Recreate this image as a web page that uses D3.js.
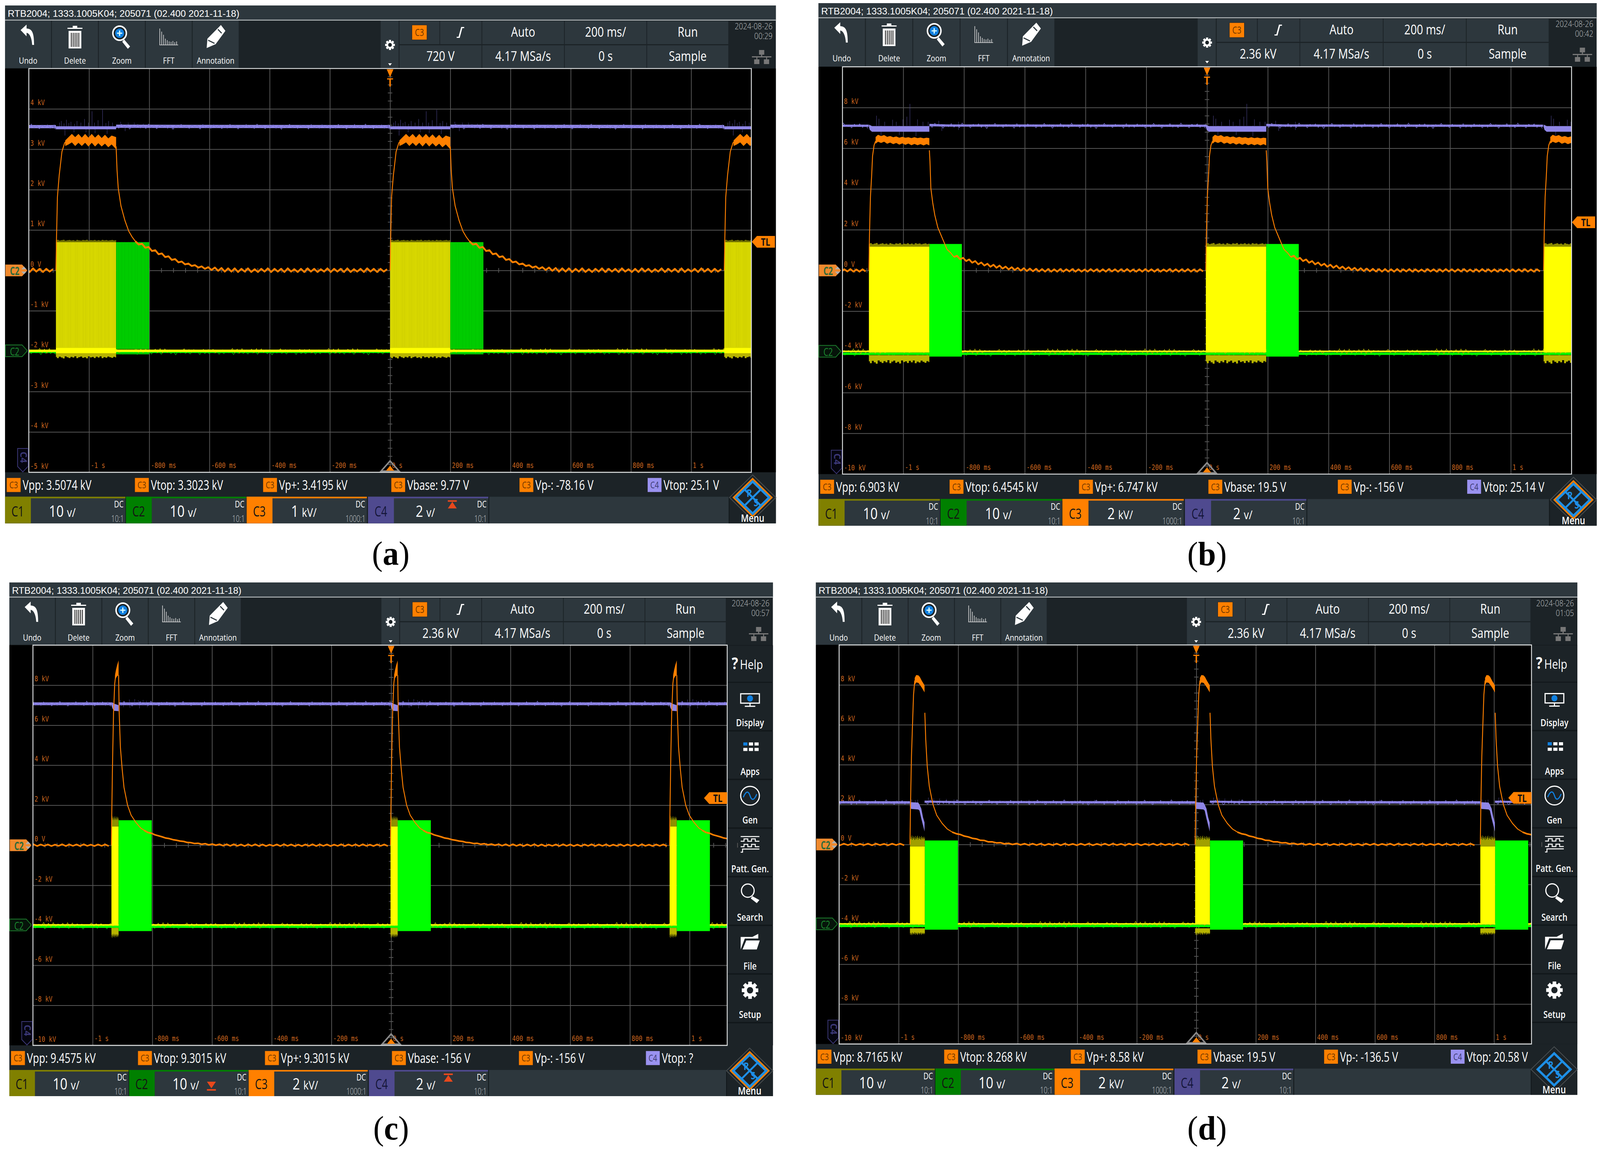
<!DOCTYPE html>
<html>
<head>
<meta charset="utf-8">
<script src="https://cdn.jsdelivr.net/npm/d3@7"></script>
<style>
  html, body { margin: 0; padding: 0; background: #fff; overflow: hidden; }
  svg { display: block; width: 100vw; height: 100vh; }
</style>
</head>
<body>
<svg id="page" viewBox="0 0 4275 2949" preserveAspectRatio="none"></svg>
<script>
// tick labels shared by the four screens
const timeTicks = [-1000, -800, -600, -400, -200, 0, 200, 400, 600, 800, 1000]
const timeLabels = ["-1 s", "-800 ms", "-600 ms", "-400 ms", "-200 ms", "0 s", "200 ms", "400 ms", "600 ms", "800 ms", "1 s"]
const voltTicksA = [4, 3, 2, 1, 0, -1, -2, -3, -4, -5]
const voltLabelsA = ["4 kV", "3 kV", "2 kV", "1 kV", "0 V", "-1 kV", "-2 kV", "-3 kV", "-4 kV", "-5 kV"]
const voltTicksB = [8, 6, 4, 2, 0, -2, -4, -6, -8, -10]
const voltLabelsB = ["8 kV", "6 kV", "4 kV", "2 kV", "0 V", "-2 kV", "-4 kV", "-6 kV", "-8 kV", "-10 kV"]

const toolButtons = ["Undo", "Delete", "Zoom", "FFT", "Annotation"]
const sideButtons = ["Display", "Apps", "Gen", "Patt. Gen.", "Search", "File", "Setup"]
const titleText = "RTB2004; 1333.1005K04; 205071 (02.400 2021-11-18)"
const channelNames = ["C1", "C2", "C3", "C4"]
const probeLabels = ["10:1", "10:1", "1000:1", "10:1"]

// screen (a)
const startsA = [-2220, -1110, 0, 1110]
const burstA = [200, 310]           // yellow end, green end (ms after pulse start)
const riseA = [[0, 0], [2, .8], [5, 1.82], [11, 2.36], [20, 2.94], [29, 3.16], [42, 3.25]]
const bandA = [[31, 3.08, 3.22], [42, 3.12, 3.3], [53, 3.17, 3.38], [64, 3.08, 3.3], [75, 3.16, 3.38], [86, 3.08, 3.29], [97, 3.16, 3.38], [108, 3.07, 3.29], [119, 3.16, 3.38], [130, 3.07, 3.29], [141, 3.15, 3.37], [152, 3.07, 3.28], [163, 3.14, 3.36], [174, 3.05, 3.27], [185, 3.12, 3.34], [200, 3, 3.3]]
const fallA = [[200, 3.07], [203, 2.49], [207, 2.04], [216, 1.6], [229, 1.24], [242, .97], [253, .83]]
const tailStartA = 264, tailStepA = 11
const tailA = [.72, .64, .66, .56, .58, .48, .5, .4, .42, .33, .35, .26, .28, .2, .22, .15, .17, .11, .13, .07, .1, .04, .08, .01, .07, -.01, .06, -.03, .05, -.03, .05, -.04, .04, -.03, .05, -.04, .03, -.04, .04, -.03, .05, -.04, .04, -.03, .04, -.04, .05, -.03, .03, -.04, .04, -.04, .05, -.03, .04, -.04, .03, -.03, .05, -.04, .04, -.03, .04, -.04, .05, -.04, .03, -.03, .04, -.04, .05, -.03, .04, -.04, .04, -.03, .03]
const purpleA = [[0, 3.495, 3.57], [200, 3.495, 3.57], [200, 3.53, 3.61], [1110, 3.52, 3.6]]
const spikesA = [[-6, 3.62], [12, 3.66], [18, 3.7], [27, 3.64], [35, 3.73], [43, 3.65], [50, 3.68], [62, 3.63], [70, 3.7], [83, 3.66], [95, 3.75], [108, 3.66], [120, 3.94], [128, 3.66], [140, 3.72], [155, 3.98], [166, 3.65], [175, 3.7], [188, 3.66], [215, 3.68], [240, 3.66], [260, 3.66], [290, 3.64], [30, 3.34], [60, 3.42], [100, 3.42], [130, 3.4], [170, 3.38], [230, 3.45]]
// green top, yellow top, yellow bottom, green bottom, fuzz start, fuzz end
const burstLevelsA = [.7, .7, -2.05, -1.95, -2.05, -2.18]
const baseLevelsA = [-1.99, -2.03]               // yellow, green
const fuzzTopA = .06
const stripesYellowA = [6, 14, 21, 33, 41, 48, 57, 66, 72, 84, 91, 99, 108, 113, 124, 131, 142, 150, 158, 163, 175, 182, 194]
const stripesGreenA = [207, 219, 228, 241, 252, 263, 271, 284, 296, 305]
const measA = [["C3", "Vpp: 3.5074 kV"], ["C3", "Vtop: 3.3023 kV"], ["C3", "Vp+: 3.4195 kV"], ["C3", "Vbase: 9.77 V"], ["C3", "Vp-: -78.16 V"], ["C4", "Vtop: 25.1 V"]]
const scalesA = ["10", "10", "1", "2"]
const unitsA = ["v/", "v/", "kV/", "v/"]

// screen (b)
const startsB = [-2224, -1113, -4, 1108]
const burstB = [199, 306]
const riseB = [[0, 0], [2, 1.83], [5, 3.6], [9, 4.65], [12, 5.62], [17, 6.15], [22, 6.35]]
const bandB = [[22, 6.22, 6.55], [30, 6.32, 6.66], [40, 6.26, 6.6], [50, 6.32, 6.65], [60, 6.22, 6.56], [70, 6.28, 6.6], [80, 6.2, 6.54], [90, 6.26, 6.58], [100, 6.18, 6.52], [110, 6.24, 6.56], [120, 6.17, 6.52], [130, 6.23, 6.54], [140, 6.15, 6.5], [150, 6.21, 6.54], [160, 6.15, 6.5], [170, 6.2, 6.53], [180, 6.14, 6.49], [190, 6.2, 6.52], [199, 6.14, 6.5]]
const fallB = [[199, 5.9], [201, 5.36], [204, 4.03], [210, 3.33], [217, 2.71], [227, 2.1], [242, 1.57], [257, 1.04], [270, .85]]
const tailStartB = 280, tailStepB = 10
const tailB = [.66, .72, .55, .62, .46, .54, .38, .46, .3, .39, .24, .33, .18, .28, .13, .24, .09, .19, .05, .16, .02, .13, -.01, .11, -.03, .09, -.04, .08, -.05, .07, -.06, .07, -.06, .06, -.06, .07, -.06, .06, -.05, .07, -.06, .06, -.06, .05, -.06, .07, -.05, .06, -.06, .06, -.06, .07, -.05, .06, -.06, .06, -.05, .07, -.06, .05, -.06, .06, -.06, .07, -.05, .06, -.06, .06, -.06, .05, -.05, .07, -.06, .06, -.06, .06, -.05, .07, -.06, .05, -.06, .06, -.05]
const purpleB = [[0, 7.05, 7.16], [3, 6.9, 7.14], [10, 6.81, 7.09], [199, 6.81, 7.09], [199, 7.08, 7.2], [260, 7.06, 7.17], [1110, 7.05, 7.16]]
const spikesB = [[25, 7.6], [33, 7.45], [52, 7.3], [78, 7.4], [90, 7.3], [112, 7.42], [125, 7.55], [135, 8.18], [160, 7.42], [178, 7.3], [195, 7.3], [230, 7.35], [295, 7.3], [40, 6.62], [100, 6.65], [155, 6.6], [240, 6.85], [295, 6.9]]
const burstLevelsB = [1.3, 1.17, -4.03, -4.23, -4.16, -4.58]
const baseLevelsB = [-3.97, -4.09]
const fuzzTopB = .18
const measB = [["C3", "Vpp: 6.903 kV"], ["C3", "Vtop: 6.4545 kV"], ["C3", "Vp+: 6.747 kV"], ["C3", "Vbase: 19.5 V"], ["C3", "Vp-: -156 V"], ["C4", "Vtop: 25.14 V"]]
const scalesB = ["10", "10", "2", "2"]
const unitsB = ["v/", "v/", "kV/", "v/"]

// screen (c)
const startsC = [-1872, -937, -2, 933]
const burstC = [24, 135]
const riseC = [[0, 0], [1, 1.47], [4, 4.38], [7, 6.6], [11, 8.07], [15, 8.6]]
const bandC = [[12, 8.2, 8.5], [15, 8.35, 8.75], [19, 8.45, 9], [24, 8.5, 9.24]]
const fallC = [[24, 8.5], [26, 6.6], [30, 4.9], [36, 3.8], [42, 2.9], [54, 2], [66, 1.5], [82, 1.14], [98, .86]]
const tailStartC = 110, tailStepC = 12
const tailC = [.74, .64, .6, .52, .47, .42, .36, .33, .28, .25, .21, .19, .14, .13, .09, .1, .05, .08, .02, .06, 0, .05, -.02, .05, -.03, .05, -.03, .04, -.04, .04, -.03, .05, -.04, .04, -.04, .03, -.03, .04, -.04, .05, -.03, .04, -.04, .03, -.04, .04, -.03, .05, -.04, .04, -.03, .04, -.04, .03, -.03, .05, -.04, .04, -.03, .04, -.04, .05, -.03, .03, -.04, .04, -.03, .04, -.04]
const purpleC = [[0, 7, 7.14], [3, 6.85, 7.14], [8, 6.72, 7.08], [24, 6.7, 7], [24, 7, 7.14], [935, 7, 7.14]]
const spikesC = [[-12, 7.2], [30, 7.25], [42, 7.22], [60, 7.28], [78, 7.3], [90, 7.24], [106, 7.26], [118, 7.22], [40, 6.9], [62, 6.88], [94, 6.84], [120, 6.9], [210, 7.2], [380, 7.2], [540, 7.18]]
const burstLevelsC = [1.25, .94, -4, -4.29, -4.13, -4.63]
const baseLevelsC = [-3.98, -4.07]
const fuzzTopC = .53
const measC = [["C3", "Vpp: 9.4575 kV"], ["C3", "Vtop: 9.3015 kV"], ["C3", "Vp+: 9.3015 kV"], ["C3", "Vbase: -156 V"], ["C3", "Vp-: -156 V"], ["C4", "Vtop: ?"]]
const scalesC = ["10", "10", "2", "2"]
const unitsC = ["v/", "v/", "kV/", "v/"]

// screen (d)
const startsD = [-1920, -962, -4, 954]
const burstD = [50, 161]
const riseD = [[0, 0], [2, 2.1], [5, 4.4], [9, 6.2], [12, 7.5], [16, 8.2], [21, 8.2]]
const bandD = [[16, 8, 8.35], [21, 8.12, 8.49], [28, 8.1, 8.48], [33, 8.01, 8.4], [40, 7.85, 8.2], [46, 7.7, 8.05], [49, 7.62, 7.98]]
const fallD = [[50, 6.6], [53, 5.27], [58, 3.92], [65, 2.91], [77, 2.02], [90, 1.46], [108, 1.06], [125, .78]]
const tailStartD = 142, tailStepD = 13.5
const tailD = [.62, .54, .5, .42, .38, .31, .28, .21, .2, .13, .13, .08, .09, .03, .06, 0, .05, -.02, .04, -.03, .04, -.03, .04, -.04, .03, -.03, .04, -.04, .04, -.03, .03, -.04, .04, -.03, .04, -.04, .03, -.03, .04, -.04, .04, -.03, .03, -.04, .04, -.03, .04, -.04, .03, -.03, .04, -.04, .04, -.03, .03, -.04, .04, -.03, .04, -.04]
const purpleD = [[0, 1.9, 2.14], [4, 1.78, 2.12], [28, 1.75, 2.1], [32, 1.7, 2], [38, 1.3, 1.8], [44, .95, 1.35], [49, .65, 1.1], [49, 2.1, 2.2], [150, 2.07, 2.18], [958, 2.04, 2.17]]
const spikesD = [[6, 2.25], [18, 2.22], [26, 2.24], [62, 2.35], [80, 2.3], [100, 2.3], [122, 2.28], [148, 2.26], [400, 2.24], [620, 2.24]]
const burstLevelsD = [.2, -.1, -4, -4.27, -4.2, -4.54]
const baseLevelsD = [-3.98, -4.08]
const fuzzTopD = .55
const measD = [["C3", "Vpp: 8.7165 kV"], ["C3", "Vtop: 8.268 kV"], ["C3", "Vp+: 8.58 kV"], ["C3", "Vbase: 19.5 V"], ["C3", "Vp-: -136.5 V"], ["C4", "Vtop: 20.58 V"]]
const scalesD = ["10", "10", "2", "2"]
const unitsD = ["v/", "v/", "kV/", "v/"]

// grass on the flat traces and on the burst edges, read as a fraction of its own height
const fuzzShape = [.5, .9, .4, .7, 1, .3, .6, .85, .45, .7, .25, .9, .55, .35, .8, .6, .95, .3, .65, .5, .85, .4, .7, .3, .9, .55, .75, .35, .6, .8, .45, .65]
const hairNoise = [.4, -.6, .9, -.2, .5, -.9, .3, -.4, .8, -.5, .2, -.7, 1, -.3, .4, -.8, .6, -.1, .7, -.6, .3, -1, .5, -.3, .9, -.4, .2, -.7, .6, -.2, .4, -.9, .8, -.5, .1, -.6, .7, -.3, .5, -.8]

const CH_ORANGE = "#ff8000", CH_PURPLE = "#8f86e6", CH_YELLOW = "#ffff00", CH_GREEN = "#00ff00"
const BTN = "#2d373d", DARK = "#1c2327"
const SANS = "'Open Sans', 'Noto Sans', sans-serif"
const MONO = "'DejaVu Sans Mono', 'Liberation Mono', monospace"

const panels = [
  { name: "a", left: 13.5, right: 2073, top: 14, titleB: 52, toolB: 175.4, plotL: 77, plotR: 2007.5, plotB: 1209, measB: 1271.6, chanB: 1339.6,
    tDomain: [-1200, 1200], vDomain: [-5, 5], vTicks: voltTicksA, vLabels: voltLabelsA,
    starts: startsA, burst: burstA, rise: riseA, band: bandA, fall: fallA, tail: tailA, tailStart: tailStartA, tailStep: tailStepA,
    purple: purpleA, spikes: spikesA, levels: burstLevelsA, base: baseLevelsA, fuzzTop: fuzzTopA, fuzzFill: "#6f6f00", tailWidth: 4.6,
    meas: measA, scales: scalesA, units: unitsA, trig: "720 V", date: "2024-08-26", time: "00:29",
    yellow: "#d6d600", green: "#00cc00", stripesY: stripesYellowA, stripesG: stripesGreenA, greenLine: -2.06,
    tl: 619, tlLeft: false, caption: "a", capX: 1044, capY: 1446, warn: [[3, "up", 225]], orangeLogo: true, titleW: 619 },
  { name: "b", left: 2187, right: 4266, top: 8, titleB: 46, toolB: 171, plotL: 2251, plotR: 4199, plotB: 1213.6, measB: 1277.5, chanB: 1345.6,
    tDomain: [-1200, 1200], vDomain: [-10, 10], vTicks: voltTicksB, vLabels: voltLabelsB,
    starts: startsB, burst: burstB, rise: riseB, band: bandB, fall: fallB, tail: tailB, tailStart: tailStartB, tailStep: tailStepB,
    purple: purpleB, spikes: spikesB, levels: burstLevelsB, base: baseLevelsB, fuzzTop: fuzzTopB, fuzzFill: "#8a8a00", tailWidth: 4.4,
    meas: measB, scales: scalesB, units: unitsB, trig: "2.36 kV", date: "2024-08-26", time: "00:42",
    yellow: CH_YELLOW, green: CH_GREEN, tl: 569, tlLeft: false, caption: "b", capX: 3225, capY: 1447, warn: [], orangeLogo: true, titleW: 619 },
  { name: "c", left: 25, right: 2065, top: 1491, titleB: 1529, toolB: 1651.5, plotL: 88, plotR: 1943, plotB: 2676, measB: 2739, chanB: 2806,
    tDomain: [-1200, 1126], vDomain: [-10, 10], vTicks: voltTicksB, vLabels: voltLabelsB,
    starts: startsC, burst: burstC, rise: riseC, band: bandC, fall: fallC, tail: tailC, tailStart: tailStartC, tailStep: tailStepC,
    purple: purpleC, spikes: spikesC, levels: burstLevelsC, base: baseLevelsC, fuzzTop: fuzzTopC, fuzzFill: "#8f8f00", tailWidth: 4,
    meas: measC, scales: scalesC, units: unitsC, trig: "2.36 kV", date: "2024-08-26", time: "00:57",
    yellow: CH_YELLOW, green: CH_GREEN, tl: 2043, tlLeft: true, caption: "c", capX: 1045, capY: 2917, warn: [[1, "down", 222], [3, "up", 214]], orangeLogo: true, titleW: 613, side: true },
  { name: "d", left: 2180, right: 4214.5, top: 1491, titleB: 1529, toolB: 1651, plotL: 2242, plotR: 4092, plotB: 2672.5, measB: 2735.5, chanB: 2802.5,
    tDomain: [-1200, 1126], vDomain: [-10, 10], vTicks: voltTicksB, vLabels: voltLabelsB,
    starts: startsD, burst: burstD, rise: riseD, band: bandD, fall: fallD, tail: tailD, tailStart: tailStartD, tailStep: tailStepD,
    purple: purpleD, spikes: spikesD, levels: burstLevelsD, base: baseLevelsD, fuzzTop: fuzzTopD, fuzzFill: "#a0a000", tailWidth: 4,
    meas: measD, scales: scalesD, units: unitsD, trig: "2.36 kV", date: "2024-08-26", time: "01:05",
    yellow: CH_YELLOW, green: CH_GREEN, tl: 2042.5, tlLeft: true, caption: "d", capX: 3225, capY: 2917, warn: [], orangeLogo: false, titleW: 613, side: true }
]

const svg = d3.select("#page")

function label(g, x, y, str, o = {}) {
  return g.append("text")
    .attr("transform", `translate(${x},${y}) scale(${o.sx ?? .82},1)`)
    .attr("font-family", o.family ?? SANS)
    .attr("font-size", o.size ?? 34)
    .attr("font-weight", o.weight ?? 400)
    .attr("fill", o.fill ?? "#fff")
    .attr("text-anchor", o.anchor ?? "start")
    .text(str)
}

function box(g, x, y, w, h, fill) {
  return g.append("rect").attr("x", x).attr("y", y).attr("width", w).attr("height", h).attr("fill", fill)
}

function drawToolIcon(g, name) {
  const w = "#fff"
  if (name === "Undo") {
    g.append("path").attr("d", "M-20,-18 L-4,-32 L-4,-22 C12,-22 16,-8 16,20 L11,20 C10,2 4,-10 -4,-11 L-4,-2 Z").attr("fill", w)
  } else if (name === "Delete") {
    g.append("path").attr("d", "M-20,-24 H-6 V-29 H6 V-24 H20 V-21 H-20 Z").attr("fill", w)
    box(g, -17, -16, 34, 45, w)
    ;[-11, -6, -1, 4, 9].forEach(d => box(g, d, -11, 2.5, 36, "#333"))
  } else if (name === "Zoom") {
    g.append("circle").attr("cx", -6).attr("cy", -10).attr("r", 18).attr("fill", "#1c2327").attr("stroke", w).attr("stroke-width", 4)
    g.append("circle").attr("cx", -6).attr("cy", -10).attr("r", 12).attr("fill", "#1080e0")
    box(g, -13, -11.5, 14, 3, "#dff")
    box(g, -7.5, -17, 3, 14, "#dff")
    g.append("path").attr("d", "M6,6 L22,24 L16,30 L1,12 Z").attr("fill", w)
  } else if (name === "FFT") {
    g.append("path").attr("d", "M-25,20 H25 M-24,20 V-22 M-19,20 V-14 M-14,20 V-6 M-9,20 V4 M-4,20 V8 M1,20 V11 M6,20 V12 M11,20 V10 M16,20 V13 M21,20 V11")
      .attr("stroke", "#ddd").attr("stroke-width", 1.6).attr("fill", "none")
  } else if (name === "Annotation") {
    g.append("path").attr("d", "M14,-31 L26,-16 L0,18 L-24,28 L-22,4 Z").attr("fill", w)
    g.append("path").attr("d", "M-20,8 L-3,16 M6,-20 L16,-10").attr("stroke", "#2d373d").attr("stroke-width", 3)
  }
}

function drawSideIcon(g, name) {
  const w = "#fff"
  if (name === "Display") {
    g.append("rect").attr("x", -25).attr("y", -12).attr("width", 50).attr("height", 24).attr("fill", "none").attr("stroke", w).attr("stroke-width", 3)
    g.append("circle").attr("r", 8).attr("cy", 0).attr("fill", "#1080e0")
    g.append("path").attr("d", "M0,12 V20 M-14,20 H14").attr("stroke", w).attr("stroke-width", 3)
  } else if (name === "Apps") {
    ;[-18, -3, 12].forEach((x, i) => [-12, 2].forEach((y, j) => box(g, x, y, 11, 8, i === 0 && j === 0 ? "#1080e0" : w)))
  } else if (name === "Gen") {
    g.append("ellipse").attr("rx", 25).attr("ry", 24).attr("fill", "none").attr("stroke", w).attr("stroke-width", 3)
    g.append("path").attr("d", "M-18,4 C-10,-14 -4,-12 0,0 C4,12 10,14 18,-4").attr("fill", "none").attr("stroke", "#1080e0").attr("stroke-width", 3)
  } else if (name === "Patt. Gen.") {
    g.append("path").attr("d", "M-25,-20 H25 M-25,-8 H-16 V-14 H-6 V-8 H4 V-14 H14 V-8 H25 M-25,6 H-16 V0 H-6 V6 H4 V0 H14 V6 H25 M-25,20 H-20 V12 H25")
      .attr("fill", "none").attr("stroke", w).attr("stroke-width", 2.5)
  } else if (name === "Search") {
    g.append("circle").attr("cx", -6).attr("cy", -6).attr("r", 17).attr("fill", "none").attr("stroke", w).attr("stroke-width", 3)
    g.append("path").attr("d", "M6,8 L25,18 L18,26 L2,14 Z").attr("fill", w)
  } else if (name === "File") {
    g.append("path").attr("d", "M-25,20 V-12 L6,-12 L22,-20 V-8 H-14 L-25,20 Z M-20,20 L-10,-3 H26 L18,20 Z").attr("fill", w)
  } else if (name === "Setup") {
    drawGear(g, 22)
  }
}

function drawGear(g, r) {
  d3.range(4).forEach(i => {
    g.append("rect").attr("x", -r * .22).attr("y", -r).attr("width", r * .44).attr("height", r * 2).attr("fill", "#fff")
      .attr("transform", `rotate(${i * 45})`)
  })
  g.append("circle").attr("r", r * .75).attr("fill", "#fff")
  g.append("circle").attr("r", r * .38).attr("fill", DARK)
}

function drawChrome(g, p) {
  const W = p.right - p.left
  const k = W / 2059.5
  const X = v => p.left + v * k

  box(g, p.left, p.top, W, p.chanB - p.top, DARK)
  box(g, p.left, p.top, W, p.titleB - p.top, BTN)
  box(g, p.left, p.titleB - 1.5, W, 2, "#cfd4d6")

  label(g, p.left + 7, p.titleB - 9, titleText, { family: "'Liberation Sans', Arial, sans-serif", size: 23, sx: 1 })
    .attr("textLength", p.titleW).attr("lengthAdjust", "spacingAndGlyphs")

  // tool buttons
  toolButtons.forEach((name, i) => {
    const x0 = X(i * 125.3), w = 123 * k
    box(g, x0, p.titleB + 1, w, p.toolB - p.titleB - 2, BTN)
    drawToolIcon(g.append("g").attr("transform", `translate(${x0 + w / 2},${p.titleB + 43})`), name)
    label(g, x0 + w / 2, p.titleB + 111, name, { size: 22, anchor: "middle", sx: .88 })
  })

  // gear column
  const gx = X(1028.5)
  box(g, X(1003.5), p.titleB + 1, 48 * k, p.toolB - p.titleB - 2, BTN)
  drawGear(g.append("g").attr("transform", `translate(${gx},${p.titleB + 63})`), 13)
  g.append("path").attr("d", `M${gx - 5},${p.titleB + 110} h10 l-5,6 Z`).attr("fill", "#fff")

  // acquisition cells
  const cols = [1054, 1162.5, 1275, 1495.5, 1715.5, 1934.5]
  const rowA = [p.titleB + 2, 59], rowB = [p.titleB + 64, p.toolB - p.titleB - 65]
  box(g, X(cols[0]), rowA[0], (cols[1] - cols[0] - 2) * k, rowA[1], BTN)
  box(g, X(cols[1]), rowA[0], (cols[2] - cols[1] - 2) * k, rowA[1], BTN)
  box(g, X(cols[0]), rowB[0], (cols[2] - cols[0] - 2) * k, rowB[1], BTN)
  d3.range(2, 5).forEach(i => {
    box(g, X(cols[i]), rowA[0], (cols[i + 1] - cols[i] - 2) * k, rowA[1], BTN)
    box(g, X(cols[i]), rowB[0], (cols[i + 1] - cols[i] - 2) * k, rowB[1], BTN)
  })
  const mid = i => X((cols[i] + cols[i + 1] - 2) / 2)
  const c3x = mid(0)
  box(g, c3x - 20, p.titleB + 12, 40, 38, CH_ORANGE).attr("stroke", "#222").attr("stroke-width", 1)
  label(g, c3x, p.titleB + 40, "C3", { size: 25, anchor: "middle", fill: "#6a3500", sx: .8 })
  g.append("path").attr("d", `M${mid(1) - 11},${p.titleB + 42} h5 l7,-25 h8 v3 h-5 l-7,25 h-8 Z`).attr("fill", "#fff")
  ;[["Auto", 2], ["200 ms/", 3], ["Run", 4]].forEach(([s, i]) => label(g, mid(i), p.titleB + 42, s, { anchor: "middle", sx: .86 }))
  label(g, X((cols[0] + cols[2] - 2) / 2), p.titleB + 104, p.trig, { anchor: "middle", sx: .86 })
  ;[["4.17 MSa/s", 2], ["0 s", 3], ["Sample", 4]].forEach(([s, i]) => label(g, mid(i), p.titleB + 104, s, { anchor: "middle", sx: .86 }))

  // date and network glyph
  label(g, p.right - 9, p.titleB + 23, p.date, { size: 22, anchor: "end", fill: "#c0c4c6", sx: .88, weight: 300 })
  label(g, p.right - 9, p.titleB + 48, p.time, { size: 22, anchor: "end", fill: "#c0c4c6", sx: .88, weight: 300 })
  const nx = p.right - 38, ny = p.titleB + 76
  box(g, nx - 7, ny, 14, 12, "#777")
  box(g, nx - 26, ny + 16, 52, 3, "#777")
  box(g, nx - 1.5, ny + 10, 3, 8, "#777")
  box(g, nx - 20, ny + 24, 14, 12, "#777")
  box(g, nx + 6, ny + 24, 14, 12, "#777")
  box(g, nx - 14, ny + 17, 2.5, 8, "#777")
  box(g, nx + 12, ny + 17, 2.5, 8, "#777")

  // plot background
  const plotRight = p.side ? p.plotR : p.right
  box(g, p.left, p.toolB, plotRight - p.left, p.plotB - p.toolB, "#000")

  // measurement row
  const spacing = 342.5 * k
  p.meas.forEach(([ch, s], i) => {
    const x = p.left + 4 + i * spacing, y = p.plotB + 14
    box(g, x, y, 38, 37, ch === "C3" ? CH_ORANGE : "#9a92f0").attr("stroke", "#222").attr("stroke-width", 1)
    label(g, x + 19, y + 27, ch, { size: 24, anchor: "middle", fill: ch === "C3" ? "#6a3500" : "#3c3a70", sx: .8 })
    label(g, x + 43, y + 31, s, { size: 34, sx: .79 })
  })

  // channel strip
  const chanStarts = [0, 323, 645.5, 970]
  const chanFill = ["#808000", "#008000", CH_ORANGE, "#4f4a8f"]
  box(g, p.left, p.measB, W, p.chanB - p.measB, BTN)
  box(g, X(1934.5), p.measB, p.right - X(1934.5), p.chanB - p.measB, DARK)
  box(g, X(1934.5) - 1, p.measB, 2, p.chanB - p.measB, "#11171a")
  channelNames.forEach((c, i) => {
    const x0 = X(chanStarts[i]), cw = 321.5 * k, h = p.chanB - p.measB
    box(g, x0, p.measB, cw, 4, chanFill[i])
    box(g, x0, p.measB, 69 * k, h, chanFill[i])
    box(g, x0 + cw, p.measB, 2, h, "#11171a")
    label(g, x0 + 34 * k, p.chanB - 18, c, { size: 36, anchor: "middle", fill: i === 3 ? "#15163a" : "#141414", sx: .78 })
    const t = label(g, x0 + 153 * k, p.chanB - 17, "", { anchor: "middle", sx: .86 })
    t.append("tspan").attr("font-size", 40).text(p.scales[i] + " ")
    t.append("tspan").attr("font-size", 31).text(p.units[i])
    label(g, x0 + cw - 5, p.measB + 27, "DC", { size: 24, anchor: "end", sx: .78 })
    label(g, x0 + cw - 4, p.chanB - 4, probeLabels[i], { size: 24, anchor: "end", fill: "#c4c8ca", sx: .72, weight: 300 })
  })
  p.warn.forEach(([i, dir, off]) => {
    const x = X(chanStarts[i] + off), y = dir === "up" ? p.measB + 9 : p.measB + 30
    const path = dir === "up"
      ? `M${x - 12},${y} h24 v4 h-24 Z M${x},${y + 4} l12,17 h-24 Z`
      : `M${x - 12},${y} h24 l-12,17 Z M${x - 12},${y + 19} h24 v4 h-24 Z`
    g.append("path").attr("d", path).attr("fill", "#e8481c")
  })

  // R&S logo
  const lx = p.right - 62, ly = p.measB + 2
  const diamond = (a, b) => `M${lx},${ly - b} L${lx + a},${ly} L${lx},${ly + b} L${lx - a},${ly} Z`
  g.append("path").attr("d", diamond(62, 58)).attr("fill", DARK).attr("stroke", "#4a4f52").attr("stroke-width", 2)
  if (p.orangeLogo) g.append("path").attr("d", diamond(51, 48)).attr("fill", "none").attr("stroke", CH_ORANGE).attr("stroke-width", 4)
  g.append("path").attr("d", diamond(44, 41)).attr("fill", "none").attr("stroke", "#1e8fe6").attr("stroke-width", 6)
  g.append("path").attr("d", `M${lx - 22},${ly - 21} L${lx + 22},${ly + 21} M${lx + 22},${ly - 21} L${lx - 22},${ly + 21}`).attr("stroke", "#1e8fe6").attr("stroke-width", 5)
  label(g, lx - 9, ly - 2, "R", { size: 26, fill: "#1e8fe6", weight: 700, anchor: "middle", sx: .85 })
  label(g, lx + 9, ly + 22, "S", { size: 26, fill: "#1e8fe6", weight: 700, anchor: "middle", sx: .85 })
  label(g, lx, p.chanB - 4, "Menu", { size: 27, anchor: "middle", sx: .84, weight: 600 })

  // side menu on screens (c) and (d)
  if (p.side) {
    const sw = p.right - p.plotR
    const sx = p.plotR + sw / 2
    box(g, p.plotR, p.toolB, sw, p.plotB - p.toolB, "#11171a")
    box(g, p.plotR + 1.5, p.toolB + 1, sw - 1.5, 93, DARK)
    label(g, p.plotR + 12, p.toolB + 61, "?", { size: 42, weight: 700, sx: .85 })
    label(g, p.plotR + 34, p.toolB + 61, "Help", { size: 33, sx: .86 })
    sideButtons.forEach((name, i) => {
      const y0 = p.toolB + 96.5 + i * 124.5
      box(g, p.plotR + 1.5, y0, sw - 1.5, 121, DARK)
      drawSideIcon(g.append("g").attr("transform", `translate(${sx},${y0 + 40})`), name)
      label(g, sx, y0 + 111, name, { size: 25, anchor: "middle", sx: .85, weight: 600 })
    })
    box(g, p.plotR + 1.5, p.toolB + 96.5 + 7 * 124.5, sw - 1.5, p.plotB - (p.toolB + 96.5 + 7 * 124.5), DARK)
  }
}

function styleAxis(sel, tx, ty) {
  sel.select(".domain").remove()
  sel.selectAll(".tick line").attr("stroke", "#565656").attr("stroke-width", 2)
  sel.selectAll(".tick text")
    .attr("x", 0).attr("y", 0).attr("dy", 0).attr("text-anchor", "start")
    .attr("font-family", MONO).attr("font-size", 20).attr("fill", "#c8641e")
    .attr("transform", `translate(${tx},${ty}) scale(.8,1)`)
}

function drawScope(g, p) {
  const x = d3.scaleLinear().domain(p.tDomain).range([p.plotL, p.plotR])
  const y = d3.scaleLinear().domain(p.vDomain).range([p.plotB, p.toolB])
  const vs = p.vDomain[1] / 5

  // grid with the labels sitting inside the graticule
  g.append("g").attr("transform", `translate(0,${p.plotB})`)
    .call(d3.axisBottom(x).tickValues(timeTicks).tickFormat((d, i) => timeLabels[i]).tickSize(-(p.plotB - p.toolB)))
    .call(s => styleAxis(s, 4, -11))
  g.append("g").attr("transform", `translate(${p.plotL},0)`)
    .call(d3.axisLeft(y).tickValues(p.vTicks).tickFormat((d, i) => p.vLabels[i]).tickSize(-(p.plotR - p.plotL)))
    .call(s => styleAxis(s, 4, -10))

  // centre axes with their fine divisions
  const div = (p.vDomain[1] - p.vDomain[0]) / 50
  g.append("g").attr("transform", `translate(${x(0) - 6},0)`)
    .call(d3.axisRight(y).tickValues(d3.range(p.vDomain[0], p.vDomain[1] + div / 2, div)).tickSize(12).tickFormat(""))
    .call(s => styleAxis(s, 0, 0))
  g.append("g").attr("transform", `translate(0,${y(0) - 6})`)
    .call(d3.axisBottom(x).tickValues(d3.range(-1200, 1200, 40)).tickSize(12).tickFormat(""))
    .call(s => styleAxis(s, 0, 0))

  const clipId = "plot-" + p.name
  g.append("clipPath").attr("id", clipId).append("rect")
    .attr("x", p.plotL).attr("y", p.toolB).attr("width", p.plotR - p.plotL).attr("height", p.plotB - p.toolB)
  const plot = g.append("g").attr("clip-path", `url(#${clipId})`)

  const [greenTop, yellowTop, yellowBottom, greenBottom, fuzzStart, fuzzEnd] = p.levels
  const line = d3.line().x(d => x(d[0])).y(d => y(d[1]))
  const area = d3.area().x(d => x(d[0])).y0(d => y(d[1])).y1(d => y(d[2]))

  // C2 and C1 resting traces with some grass
  const [yBase, gBase] = p.base
  const hair = d3.range(0, 300).map(i => [p.tDomain[0] + i * 8, hairNoise[i % hairNoise.length]])
  plot.append("path").attr("fill", "none").attr("stroke", "#00b000").attr("stroke-width", 1.4)
    .attr("d", line(hair.map(d => [d[0], gBase + d[1] * .06 * vs])))
  plot.append("line").attr("x1", x(p.tDomain[0])).attr("x2", x(p.tDomain[1])).attr("y1", y(gBase)).attr("y2", y(gBase))
    .attr("stroke", CH_GREEN).attr("stroke-width", p.name === "a" ? 3 : 6)
  plot.append("path").attr("fill", "none").attr("stroke", "#b0b000").attr("stroke-width", 1.4)
    .attr("d", line(hair.map((d, i) => [d[0] + 4, yBase + hairNoise[(i * 3) % hairNoise.length] * .06 * vs])))
  plot.append("line").attr("x1", x(p.tDomain[0])).attr("x2", x(p.tDomain[1])).attr("y1", y(yBase)).attr("y2", y(yBase))
    .attr("stroke", CH_YELLOW).attr("stroke-width", p.name === "a" ? 6 : 3.6)

  p.starts.forEach(t0 => {
    const [yEnd, gEnd] = p.burst
    const pulse = plot.append("g")
    const bar = (a, b, hi, lo, fill) => pulse.append("rect")
      .attr("x", x(t0 + a)).attr("width", x(t0 + b) - x(t0 + a))
      .attr("y", y(hi)).attr("height", y(lo) - y(hi)).attr("fill", fill)

    // fuzz above and below the yellow burst
    const fuzzLen = fuzzShape.length - 1
    const fuzzArea = d3.area().curve(d3.curveStep)
      .x((d, i) => x(t0 + i / fuzzLen * yEnd))
      .y0(d => d[0]).y1(d => d[1])
    pulse.append("path").attr("fill", p.fuzzFill)
      .attr("d", fuzzArea(fuzzShape.map(f => [y(yellowTop), y(yellowTop + p.fuzzTop * (.45 + .55 * f))])))
    pulse.append("path").attr("fill", "#b8b400")
      .attr("d", fuzzArea(fuzzShape.map(f => [y(fuzzStart), y(fuzzStart - (fuzzStart - fuzzEnd) * (.45 + .55 * f))])))

    // C1 burst then C2 burst
    bar(0, yEnd, yellowTop, yellowBottom, p.yellow)
    if (p.stripesY) {
      p.stripesY.forEach((s, i) => pulse.append("line")
        .attr("x1", x(t0 + s)).attr("x2", x(t0 + s)).attr("y1", y(yellowTop)).attr("y2", y(yellowBottom + .15))
        .attr("stroke", i % 3 === 0 ? "#dada00" : "#d0d000").attr("stroke-width", 1.5))
      bar(0, yEnd, yellowBottom + .13, yellowBottom, CH_YELLOW)
    }
    bar(yEnd, gEnd, greenTop, greenBottom, p.green)
    if (p.stripesG) {
      p.stripesG.forEach(s => pulse.append("line")
        .attr("x1", x(t0 + s)).attr("x2", x(t0 + s)).attr("y1", y(greenTop)).attr("y2", y(greenBottom))
        .attr("stroke", "#00c400").attr("stroke-width", 1.5))
      bar(yEnd, gEnd, yBase + .03, yBase - .03, CH_YELLOW)
      bar(yEnd, gEnd, p.greenLine + .02, p.greenLine - .02, "#00c000")
    }

    // C4 level, its grass and spikes
    const period = p.purple[p.purple.length - 1][0]
    const rest = p.purple[p.purple.length - 1]
    const restMid = (rest[1] + rest[2]) / 2
    pulse.append("g").selectAll("line").data(p.spikes).join("line")
      .attr("x1", d => x(t0 + d[0])).attr("x2", d => x(t0 + d[0]))
      .attr("y1", y((p.purple[0][1] + p.purple[0][2]) / 2)).attr("y2", d => y(d[1]))
      .attr("stroke", "#4f4890").attr("stroke-width", 1)
    pulse.append("path").attr("fill", CH_PURPLE).attr("d", area(p.purple.map(d => [t0 + d[0], d[1], d[2]])))
    const restHair = d3.range(yEnd, period, 9).map((t, i) => [t0 + t, restMid + hairNoise[i % hairNoise.length] * .065 * vs])
    pulse.append("path").attr("fill", "none").attr("stroke", "#7a70d4").attr("stroke-width", 1.3).attr("d", line(restHair))

    // C3 pulse: plateau band plus a single trace
    pulse.append("path").attr("fill", CH_ORANGE).attr("d", area(p.band.map(d => [t0 + d[0], d[1], d[2]])))
    const tailPts = p.tail.map((v, i) => [t0 + p.tailStart + i * p.tailStep, v])
    pulse.append("path").attr("fill", "none").attr("stroke", CH_ORANGE).attr("stroke-width", 2.4)
      .attr("stroke-linejoin", "round")
      .attr("d", line(p.rise.map(d => [t0 + d[0], d[1]])))
    pulse.append("path").attr("fill", "none").attr("stroke", CH_ORANGE).attr("stroke-width", 2.4)
      .attr("stroke-linejoin", "round")
      .attr("d", line(p.fall.map(d => [t0 + d[0], d[1]]).concat(tailPts.slice(0, 1))))
    pulse.append("path").attr("fill", "none").attr("stroke", CH_ORANGE).attr("stroke-width", p.tailWidth)
      .attr("stroke-linejoin", "round")
      .attr("d", line(tailPts))
  })

  // frame
  g.append("path").attr("d", `M${p.plotL},${p.plotB} V${p.toolB} H${p.plotR} V${p.plotB} Z`)
    .attr("fill", "none").attr("stroke", "#dfe2e3").attr("stroke-width", 2.4)

  // trigger marker on top and reference triangle at the bottom
  const tx = x(0)
  g.append("path").attr("d", `M${tx - 9},${p.toolB + 2} h18 l-9,20 Z`).attr("fill", CH_ORANGE)
  g.append("path").attr("d", `M${tx - 8},${p.toolB + 25} h16 v3 h-6 v18 h-4 v-18 h-6 Z`).attr("fill", CH_ORANGE)
  g.append("path").attr("d", `M${tx},${p.plotB - 29} L${tx + 24},${p.plotB - 3} H${tx - 24} Z`).attr("fill", "none").attr("stroke", "#8a8a8a").attr("stroke-width", 4)
  g.append("path").attr("d", `M${tx},${p.plotB - 17} L${tx + 11},${p.plotB - 4} H${tx - 11} Z`).attr("fill", CH_ORANGE)

  // channel markers on the left
  const m0 = y(0), m2 = y(yBase)
  g.append("path").attr("d", `M${p.left + 1},${m0 - 15} H${p.plotL - 18} L${p.plotL - 4},${m0} L${p.plotL - 18},${m0 + 15} H${p.left + 1} Z`).attr("fill", "#f08a2e")
  label(g, p.left + 13, m0 + 12, "C2", { size: 28, fill: "#2f6b3a", sx: .75, weight: 700 })
  g.append("path").attr("d", `M${p.plotL - 20},${m0 - 3} l7,-7 l7,7 Z M${p.plotL - 20},${m0 + 3} l7,7 l7,-7 Z`).attr("fill", "#b0b0b0")
  g.append("path").attr("d", `M${p.left + 1},${m2 - 15} H${p.plotL - 18} L${p.plotL - 4},${m2} L${p.plotL - 18},${m2 + 15} H${p.left + 1} Z`)
    .attr("fill", "#06140a").attr("stroke", "#1c7a2c").attr("stroke-width", 2)
  label(g, p.left + 13, m2 + 12, "C2", { size: 28, fill: "#1c8a30", sx: .75 })

  const c4x = p.plotL - 30, c4b = p.plotB - 1
  g.append("path").attr("d", `M${c4x},${c4b - 60} H${c4x + 28} V${c4b - 14} L${c4x + 14},${c4b} L${c4x},${c4b - 14} Z`)
    .attr("fill", "#05050f").attr("stroke", "#3b3775").attr("stroke-width", 2)
  g.append("text").attr("transform", `translate(${c4x + 7},${c4b - 52}) rotate(90)`).attr("font-family", SANS)
    .attr("font-size", 24).attr("font-weight", 700).attr("fill", "#3b3775").text("C4")

  // trigger level tag
  const xa = p.tlLeft ? p.plotR - 62 : p.plotR + 1
  g.append("path").attr("d", `M${xa},${p.tl} L${xa + 14},${p.tl - 15} H${xa + 62} V${p.tl + 15} H${xa + 14} Z`).attr("fill", CH_ORANGE)
  label(g, xa + 37, p.tl + 10, "TL", { size: 27, fill: "#111", anchor: "middle", sx: .8, weight: 700 })
}

panels.forEach(p => {
  const g = svg.append("g").attr("class", "screen-" + p.name)
  drawChrome(g, p)
  drawScope(g, p)

  const cap = g.append("text").attr("x", p.capX).attr("y", p.capY).attr("text-anchor", "middle")
    .attr("font-family", "'Liberation Serif', 'Times New Roman', serif").attr("font-size", 86).attr("fill", "#000")
  cap.append("tspan").text("(")
  cap.append("tspan").attr("font-weight", 700).text(p.caption)
  cap.append("tspan").text(")")
})
</script>
</body>
</html>
